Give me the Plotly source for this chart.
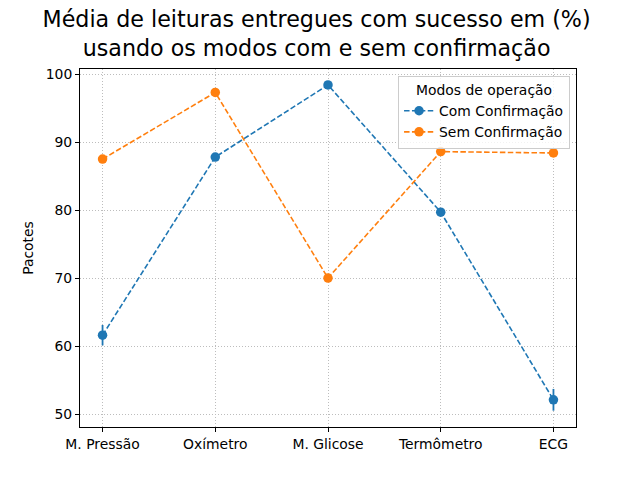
import plotly.graph_objects as go

categories = ["M. Pressão", "Oxímetro", "M. Glicose", "Termômetro", "ECG"]
com_conf = [61.6, 87.8, 98.4, 79.7, 52.1]
com_err = [1.5, 0.5, 0.4, 0.5, 1.6]
sem_conf = [87.5, 97.3, 70.0, 88.6, 88.4]
sem_err = [0.4, 0.4, 0.4, 0.3, 0.3]
yticks = [50, 60, 70, 80, 90, 100]

blue = "#1f77b4"
orange = "#ff7f0e"
font = "DejaVu Sans"
fs = 13.9

fig = go.Figure()
for name, vals, errs, col in [("Com Confirmação", com_conf, com_err, blue),
                              ("Sem Confirmação", sem_conf, sem_err, orange)]:
    fig.add_trace(go.Scatter(
        x=list(range(len(categories))), y=vals, name=name,
        mode="lines+markers",
        line=dict(color=col, width=1.6, dash="5.5px,2.4px"),
        marker=dict(color=col, size=9.5),
        error_y=dict(type="data", array=errs, visible=True, color=col, thickness=1.8, width=0),
    ))

fig.update_layout(
    width=640, height=480,
    margin=dict(l=80, r=64, t=69, b=53),
    paper_bgcolor="white", plot_bgcolor="white",
    font=dict(family=font, size=fs, color="black"),
    title=dict(text="Média de leituras entregues com sucesso em (%)<br>usando os modos com e sem confirmação",
               x=0.477, xref="paper", xanchor="center", yref="container", y=0.943, yanchor="top",
               font=dict(size=22.2, family=font)),
    showlegend=True,
    legend=dict(
        title=dict(text="Modos de operação", side="top center", font=dict(size=fs)),
        x=0.988, y=0.98, xanchor="right", yanchor="top",
        bordercolor="#cccccc", borderwidth=1, bgcolor="rgba(255,255,255,0.8)",
        font=dict(size=fs), tracegroupgap=0, itemwidth=30,
    ),
)
grid = dict(showgrid=True, gridcolor="#bdbdbd", griddash="1px,2px", gridwidth=1, zeroline=False)
fig.update_xaxes(
    range=[-0.2, 4.2], tickmode="array", tickvals=list(range(len(categories))), ticktext=categories,
    showline=True, linecolor="black", linewidth=1, mirror=True,
    ticks="outside", ticklen=4, tickcolor="black", tickfont=dict(size=fs), **grid,
)
fig.update_yaxes(
    range=[48.1, 100.75], tickmode="array", tickvals=yticks,
    title=dict(text="Pacotes", standoff=8, font=dict(size=fs)),
    showline=True, linecolor="black", linewidth=1, mirror=True,
    ticks="outside", ticklen=4, tickcolor="black", tickfont=dict(size=fs), **grid,
)

fig.write_html("out.html")
